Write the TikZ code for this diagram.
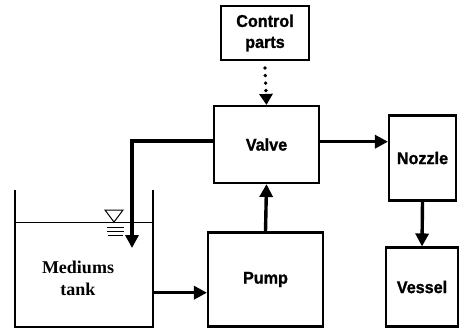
\documentclass[tikz,border=0pt]{standalone}
\usepackage{fontspec}
\newfontfamily\boxfont[FakeStretch=0.95,FakeBold=1.2]{Liberation Sans}
\newfontfamily\tankfont{Liberation Serif}
\usetikzlibrary{arrows.meta}
\begin{document}
\begin{tikzpicture}[x=1pt,y=-1pt,
  blk/.style={draw,line width=2.1pt,inner sep=0pt,align=center,
    font=\boxfont\fontsize{17}{21}\selectfont\bfseries},
  flow/.style={line width=3.4pt,-{Triangle[length=13pt,width=13pt]}},
  sig/.style={line width=3.8pt,line cap=round,dash pattern=on 0pt off 7.5pt,
    -{Triangle[length=11pt,width=13pt]}},
  wall/.style={line width=2.3pt},
  thin/.style={line width=1pt}]
\useasboundingbox (0,0) rectangle (462,333);
% boxes
\node[blk,minimum width=88pt,minimum height=54pt] (ctrl) at (265,33) {Control\\parts};
\node[blk,minimum width=105pt,minimum height=77pt] (valve) at (266.5,144.5) {Valve};
\node[blk,minimum width=67pt,minimum height=85pt] (nozzle) at (422.5,158) {Nozzle};
\node[blk,minimum width=72pt,minimum height=79pt] (vessel) at (422,287) {Vessel};
\node[blk,minimum width=115pt,minimum height=94pt] (pump) at (265.5,279.5) {Pump};
% tank
\draw[wall] (15,190) -- (15,327) -- (153,327) -- (153,190);
\draw[thin] (15,222.5) -- (153,222.5);
\draw[thin] (105,210) -- (123,210) -- (114,222) -- cycle;
\draw[thin] (107,227) -- (124,227) (107,231) -- (124,231) (108,235) -- (123,235);
\node[font=\tankfont\fontsize{18}{22}\selectfont\bfseries,align=center] (tanktext) at (78,278) {Mediums\\tank};
\coordinate (tankout) at (153,292.7);
\coordinate (tankin) at (132,248);
\coordinate (corner) at (132,141);
% connectors
\draw[sig] (ctrl.south) ++(0,7) -- (valve.north);
\draw[flow] (valve.east |- 0,141.7) -- (nozzle.west |- 0,141.7);
\draw[flow] (nozzle.south) -- (vessel.north);
\draw[flow] (pump.north) -- (valve.south);
\draw[flow] (tankout) -- (pump.west |- tankout);
\draw[flow] (valve.west |- corner) -- (corner) -- (tankin);
\end{tikzpicture}
\end{document}
